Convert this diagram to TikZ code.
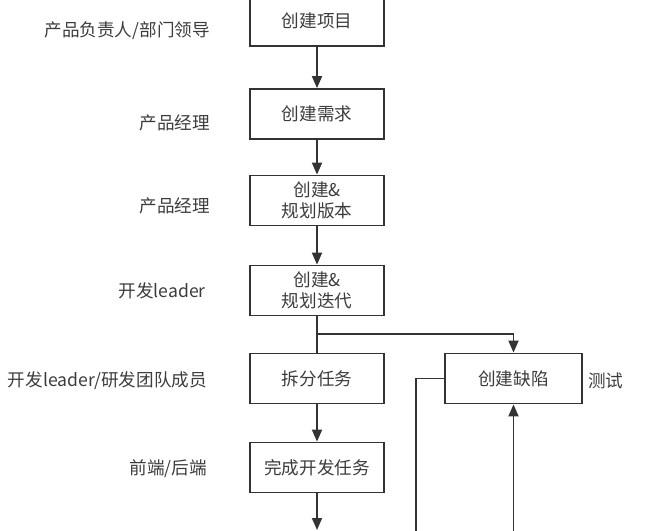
\documentclass[tikz,border=0pt]{standalone}
\usepackage{fontspec}
\newfontfamily\cjkfont{Noto Sans CJK SC}
\usepackage{tikz}
\usetikzlibrary{arrows.meta,positioning}

\definecolor{linegray}{HTML}{333333}
\definecolor{textgray}{HTML}{3C3C3C}

\begin{document}
\begin{tikzpicture}[x=1pt,y=-1pt,
    box/.style={draw=linegray, line width=1.8pt, fill=white, minimum width=134pt,
      minimum height=50pt, inner sep=2pt, align=center, text=textgray,
      font=\cjkfont\fontsize{17.6}{21}\selectfont},
    role/.style={anchor=east, inner sep=0pt, text=textgray,
      font=\cjkfont\fontsize{17.6}{21}\selectfont},
    flow/.style={draw=linegray, line width=1.8pt},
    arr/.style={flow, -{Triangle[width=10pt,length=12pt]}}]

    \clip (0,0) rectangle (647,530);

    % main column
    \node[box] (project) at (317,21) {创建项目};
    \node[box] (demand) at (317,114) {创建需求};
    \node[box] (version) at (317,200.5) {创建\&\\规划版本};
    \node[box] (sprint) at (317,290.5) {创建\&\\规划迭代};
    \node[box] (split) at (317,378.5) {拆分任务};
    \node[box] (dev) at (317,467.5) {完成开发任务};
    \node[box, minimum width=137pt] (bug) at (513.5,378.5) {创建缺陷};

    % roles
    \node[role] (r1) at (210,31) {产品负责人/部门领导};
    \node[role] (r2) at (210,123) {产品经理};
    \node[role] (r3) at (210,206) {产品经理};
    \node[role] (r4) at (206,291) {开发leader};
    \node[role] (r5) at (207,381) {开发leader/研发团队成员};
    \node[role] (r6) at (207,469) {前端/后端};
    \node[role, anchor=west] (r7) at (588,381) {测试};

    \coordinate (fork) at (317,334);
    \coordinate (forkend) at (513.5,334);
    \coordinate (devout) at (317,530);
    \coordinate (bugturn) at (416,378.5);
    \coordinate (bugout) at (416,535);
    \coordinate (bugin) at (513.5,535);

    % connectors
    \draw[arr] (project) -- (demand);
    \draw[arr] (demand) -- (version);
    \draw[arr] (version) -- (sprint);
    \draw[flow] (sprint) -- (split);
    \draw[arr] (fork) -- (forkend) -- (bug);
    \draw[arr] (split) -- (dev);
    \draw[arr] (dev) -- (devout);
    \draw[flow] (bug.west) -- (bugturn) -- (bugout);
    \draw[arr] (bugin) -- (bug);
\end{tikzpicture}
\end{document}
